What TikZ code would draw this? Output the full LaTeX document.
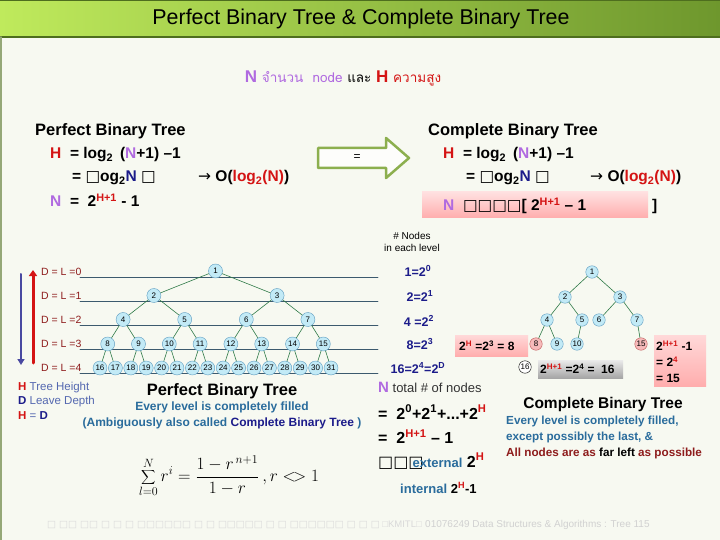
\documentclass[tikz,border=0pt]{standalone}
\usepackage{fontspec}
\setmainfont{Liberation Sans}
\newfontfamily\symf{DejaVu Sans}
\newfontfamily\thaif[Script=Thai]{Loma}
\usetikzlibrary{positioning,arrows.meta}
\definecolor{bgc}{HTML}{F7F9F1}
\definecolor{ttlA}{HTML}{BFEA5C}
\definecolor{ttlB}{HTML}{6E972D}
\definecolor{ttlline}{HTML}{4E6E1E}
\definecolor{hred}{HTML}{D41414}
\definecolor{npur}{HTML}{B06AE0}
\definecolor{dblue}{HTML}{1C1C8A}
\definecolor{teal}{HTML}{2A6C9C}
\definecolor{lblred}{HTML}{8E1C1C}
\definecolor{tnfill}{HTML}{C2EAF6}
\definecolor{tnline}{HTML}{5E9CC0}
\definecolor{pkfill}{HTML}{F6BABA}
\definecolor{pkline}{HTML}{C05858}
\definecolor{edgec}{HTML}{2F7A48}
\definecolor{lvlline}{HTML}{3C5A6E}
\definecolor{arrg}{HTML}{8CAF4E}
\definecolor{legblue}{HTML}{5468B0}
\newcommand\up[1]{\textsuperscript{#1}}
\newcommand\rup[1]{\textsuperscript{\color{hred}#1}}
\newcommand\bx{{\symf □}}
\begin{document}
\begin{tikzpicture}[x=1pt,y=-1pt,line cap=round,line join=round,every node/.style={inner sep=0pt}]
\tikzset{lvl/.style={anchor=west,font=\fontsize{10.5}{12}\selectfont,text=lblred},
	tn/.style={circle,draw=tnline,fill=tnfill,minimum size=14pt,font=\fontsize{8}{8}\selectfont},
	tns/.style={tn,minimum size=12.5pt},
	pk/.style={tns,draw=pkline,fill=pkfill},
	ed/.style={draw=edgec,line width=0.6pt},
	hd/.style={font=\bfseries\fontsize{16.5}{18}\selectfont},
	fm/.style={anchor=west,font=\bfseries\fontsize{15.5}{17}\selectfont},
	bxt/.style={anchor=west,font=\bfseries\fontsize{12}{14}\selectfont},
	lv/.style={font=\bfseries\fontsize{12.5}{14}\selectfont,text=dblue},
	tx/.style={anchor=west,font=\bfseries\fontsize{11.7}{13}\selectfont,text=teal}}
\useasboundingbox (0,0) rectangle (720,540);
\fill[bgc] (0,0) rectangle (720,540);
% title bar
\shade[left color=ttlA,right color=ttlB] (0,0) rectangle (720,37);
\draw[ttlline,line width=1.2pt] (0,37) -- (720,37);
\draw[ttlline,line width=0.8pt] (0,0.4) -- (720,0.4);
\draw[ttlline!60,line width=1.5pt] (0.75,37) -- (0.75,540);
\node (title) at (361,19) {\fontsize{21.4}{23}\selectfont Perfect Binary Tree \& Complete Binary Tree};
\node (nh) at (343,78) {\fontsize{17}{19}\selectfont{\color{npur}\textbf{N}} {\fontsize{13.5}{15}\selectfont\thaif\color{npur}จำนวน\ \ node} {\fontsize{13.5}{15}\selectfont\thaif และ} {\color{hred}\textbf{H}} {\fontsize{13.5}{15}\selectfont\thaif\color{hred}ความสูง}};
% formulas left
\node[hd,anchor=west] (pbt) at (35,131) {Perfect Binary Tree};
\node[fm] (ph) at (50,155) {{\color{hred}H}\ \ = log\textsubscript{2} \,({\color{npur}N}+1) --1};
\node[fm] (pfl) at (72,178) {= \bx og\textsubscript{2}{\color{dblue}N} \bx};
\node[fm] (po) at (198,178) {{\symf\mdseries →} O({\color{hred}log\textsubscript{2}(N)})};
\node[fm] (pn) at (50,200) {{\color{npur}N}\ \ = \ 2\rup{H+1} - 1};
% hollow arrow
\draw[arrg,line width=2.5pt,fill=white!70!bgc] (318,148) -- (386,148) -- (386,138) -- (409,158) -- (386,178) -- (386,168) -- (318,168) -- cycle;
\node (eq) at (357,158) {\fontsize{12}{12}\selectfont=};
% formulas right
\node[hd,anchor=west] (cbt) at (428,131) {Complete Binary Tree};
\node[fm] (ch) at (443,155) {{\color{hred}H}\ \ = log\textsubscript{2} \,({\color{npur}N}+1) --1};
\node[fm] (cfl) at (466,178) {= \bx og\textsubscript{2}{\color{dblue}N} \bx};
\node[fm] (co) at (590,178) {{\symf\mdseries →} O({\color{hred}log\textsubscript{2}(N)})};
\shade[top color=red!12,bottom color=red!32] (422,192) rectangle (648,218);
\node[fm] (cn) at (443,206) {{\color{npur}N}\ \ \bx\bx\bx\bx[\ 2\rup{H+1} -- 1};
\node[fm] (cbr) at (652,206) {]};
\node[align=center,font=\fontsize{10}{12.5}\selectfont] (nodes) at (412,242) {\# Nodes\\in each level};
% perfect tree
\def\s{15.4}
\foreach \l/\yy in {0/277,1/301,2/325,3/349,4/373}{
	\draw[lvlline,line width=0.6pt] (80,\yy) -- (378,\yy);
	\node[lvl] (d\l) at (41,\yy-5) {D = L =\l};}
\foreach \l/\yy in {0/271,1/295.5,2/319.5,3/344,4/368}{
	\pgfmathtruncatemacro\w{2^(4-\l)}
	\pgfmathtruncatemacro\n{2^\l}
	\foreach \m in {1,...,\n}{
		\pgfmathtruncatemacro\k{\n+\m-1}
		\node[tn] (p\k) at ({100+\s*((\m-1)*\w+(\w-1)/2)},\yy) {\k};}}
\foreach \k in {2,...,31}{\pgfmathtruncatemacro\pa{\k/2}\draw[ed] (p\pa) -- (p\k);}
\coordinate (bA) at (21,274); \coordinate (bB) at (21,365);
\coordinate (rA) at (33,363); \coordinate (rB) at (33,270);
\draw[dblue!80,line width=2pt,-{Triangle[length=6pt,width=7pt]}] (bA) -- (bB);
\draw[hred,line width=3pt,-{Triangle[length=6pt,width=8pt]}] (rA) -- (rB);
% nodes in each level
\node[lv] (n0) at (418,271) {1=2\up{0}};
\node[lv] (n1) at (420,296) {2=2\up{1}};
\node[lv] (n2) at (419,321) {4 =2\up{2}};
\node[lv] (n3) at (420,344) {8=2\up{3}};
\node[lv] (n4) at (418,368) {16=2\up{4}=2\up{D}};
% complete tree
\foreach \k/\xx/\yy in {1/592/272,2/565/297,3/620/297,4/547/320,5/582/320,6/599/320,7/637/320,9/557/344,10/577/344}{
	\node[tns] (c\k) at (\xx,\yy) {\k};}
\node[pk] (c8) at (536,344) {8};
\node[pk] (c15) at (641,344) {15};
\node[tns,fill=white,draw=black] (c16) at (525,367) {16};
\foreach \a/\b in {1/2,1/3,2/4,2/5,3/6,3/7,4/8,4/9,5/10,7/15}{\draw[ed] (c\a) -- (c\b);}
\shade[top color=red!15,bottom color=red!32] (455,335) rectangle (528,356);
\node[bxt] (lf) at (459,346) {2\rup{H} =2\up{3} = 8};
\shade[top color=black!8,bottom color=black!35] (538,360) rectangle (623,378);
\node[bxt] (al) at (540,369) {2\rup{H+1} =2\up{4} = \ 16};
\shade[top color=red!15,bottom color=red!32] (654,335) rectangle (706,386);
\node[bxt] (r1) at (656,346) {2\rup{H+1} -1};
\node[bxt] (r2) at (656,362) {= 2\rup{4}};
\node[bxt] (r3) at (656,378) {= 15};
% legend
\node[anchor=west,font=\fontsize{11.5}{13}\selectfont,text=legblue] (lh) at (18,388) {{\bfseries\color{hred}H} Tree Height};
\node[anchor=west,font=\fontsize{11.5}{13}\selectfont,text=legblue] (ld) at (18,402) {{\bfseries\color{dblue}D} Leave Depth};
\node[anchor=west,font=\fontsize{11.5}{13}\selectfont,text=legblue] (lhd) at (18,416) {{\bfseries\color{hred}H} = {\bfseries\color{dblue}D}};
\node[hd] (pbt2) at (222,391) {Perfect Binary Tree};
\node[font=\bfseries\fontsize{12}{13}\selectfont,text=teal] (pe1) at (222,407) {Every level is completely filled};
\node[font=\bfseries\fontsize{12}{13}\selectfont,text=teal] (pe2) at (222,423) {(Ambiguously also called {\color{dblue}Complete Binary Tree} )};
\node (sum) at (229,476) {\fontsize{17}{19}\selectfont$\displaystyle\sum_{l=0}^{N} r^{i}=\frac{1-r^{\,n+1}}{1-r}\,,r\mathrel{<\!>}1$};
% totals
\node[anchor=west,font=\fontsize{13}{15}\selectfont,text=black!80] (tot) at (378,387) {{\bfseries\color{npur}\fontsize{15}{17}\selectfont N} total \# of nodes};
\node[fm,font=\bfseries\fontsize{16}{18}\selectfont] (t1) at (378,412) {= \ 2\up{0}+2\up{1}+...+2\rup{H}};
\node[fm,font=\bfseries\fontsize{16}{18}\selectfont] (t2) at (378,437) {= \ 2\rup{H+1} -- 1};
\node[fm,font=\bfseries\fontsize{16}{18}\selectfont] (t3) at (378,461) {\bx\bx\bx\hspace{-11pt}{\color{teal}\fontsize{13}{15}\selectfont external} 2\rup{H}};
\node[tx,font=\bfseries\fontsize{13}{15}\selectfont] (t4) at (400,488) {internal {\color{black}2\rup{H}-1}};
\node[hd,font=\bfseries\fontsize{15.5}{17}\selectfont] (cbt2) at (603,404) {Complete Binary Tree};
\node[tx] (ce1) at (506,421) {Every level is completely filled,};
\node[tx] (ce2) at (506,437) {except possibly the last, \&};
\node[tx,text=lblred] (ce3) at (506,453) {All nodes are as {\color{black}far left} as possible};
% footer
\node[anchor=west,font=\fontsize{9.5}{11}\selectfont,text=black!15] (ft1) at (47,525) {{\symf □ □□ □□ □ □ □ □□□□□□ □ □ □□□□□ □ □ □□□□□□ □ □ □} □KMITL□};
\node[anchor=west,font=\fontsize{10}{11}\selectfont,text=black!18] (ft2) at (425,525) {01076249 Data Structures \& Algorithms : Tree 115};
\end{tikzpicture}
\end{document}
